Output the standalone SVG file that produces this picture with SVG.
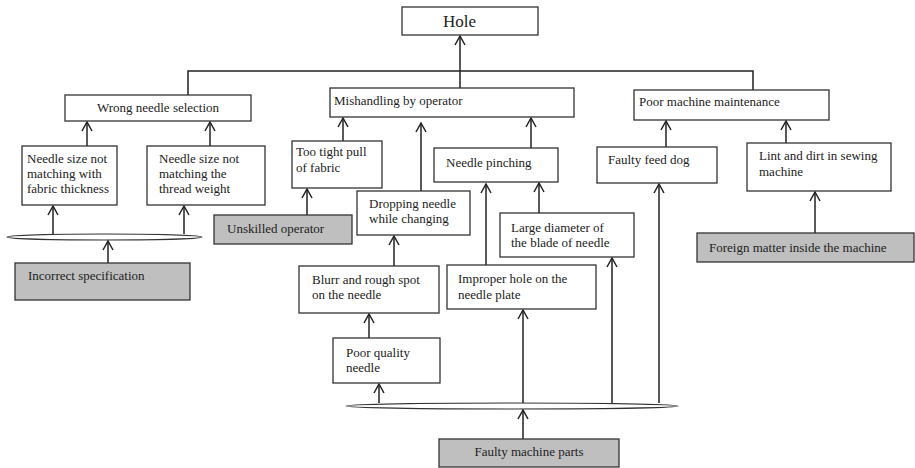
<svg xmlns="http://www.w3.org/2000/svg" width="915" height="468" viewBox="0 0 915 468">
<style>
.b{fill:#fff;stroke:#333;stroke-width:1.3}
.g{fill:#bfbfbf;stroke:#333;stroke-width:1.3}
text{font-size:13px;fill:#222}
.c line,.c path{stroke:#222;stroke-width:1.5;fill:none}
.c ellipse{fill:#fff;stroke:#333;stroke-width:1.2}
.a{marker-end:url(#ah)}
</style>
<defs>
<marker id="ah" markerUnits="userSpaceOnUse" markerWidth="14" markerHeight="14" viewBox="-10 -7 14 14" refX="0" refY="0" orient="auto">
<path d="M-9,-5 L0,0 L-9,5" fill="none" stroke="#222" stroke-width="1.5"/>
</marker>
</defs>
<g class="c" id="connectors">
<path d="M188,96 V71 H753 V90"/>
<line class="a" x1="460" y1="88" x2="460" y2="36"/>
<line class="a" x1="87" y1="146" x2="87" y2="122"/>
<line class="a" x1="210" y1="146" x2="210" y2="122"/>
<line class="a" x1="53" y1="234" x2="53" y2="206"/>
<line class="a" x1="184" y1="234" x2="184" y2="206"/>
<ellipse cx="104.5" cy="237" rx="97.5" ry="3"/>
<line class="a" x1="108" y1="263" x2="108" y2="241"/>
<line class="a" x1="343" y1="141" x2="343" y2="118"/>
<line class="a" x1="307" y1="215" x2="307" y2="189"/>
<line class="a" x1="421" y1="191" x2="421" y2="123"/>
<line class="a" x1="531" y1="148" x2="531" y2="118"/>
<line class="a" x1="539" y1="213" x2="539" y2="183"/>
<line class="a" x1="486" y1="265" x2="486" y2="184"/>
<line class="a" x1="666" y1="147" x2="666" y2="121"/>
<line class="a" x1="786" y1="143" x2="786" y2="121"/>
<line class="a" x1="815" y1="233" x2="815" y2="192"/>
<line class="a" x1="394" y1="266" x2="394" y2="236"/>
<line class="a" x1="369" y1="338" x2="369" y2="314"/>
<ellipse cx="512" cy="406" rx="166" ry="3"/>
<line class="a" x1="379" y1="403" x2="379" y2="384"/>
<line class="a" x1="523" y1="403" x2="523" y2="310"/>
<line class="a" x1="612" y1="403" x2="612" y2="258"/>
<line class="a" x1="659" y1="403" x2="659" y2="184"/>
<line class="a" x1="523" y1="439" x2="523" y2="410"/>
</g>
<g font-family="'Liberation Serif', 'DejaVu Serif', serif">
<g id="hole"><rect class="b" x="402" y="7" width="136" height="28"/><text x="443" y="27" style="font-size:17px">Hole</text></g>
<g id="wrong-needle"><rect class="b" x="65" y="95" width="186" height="26"/><text x="158" y="112" text-anchor="middle">Wrong needle selection</text></g>
<g id="mishandling"><rect class="b" x="330" y="88" width="244" height="29"/><text x="334" y="105">Mishandling by operator</text></g>
<g id="poor-maintenance"><rect class="b" x="634" y="90" width="195" height="30"/><text x="639" y="106">Poor machine maintenance</text></g>
<g id="needle-fabric"><rect class="b" x="22" y="146" width="95" height="59"/><text x="27" y="163">Needle size not</text><text x="27" y="178">matching with</text><text x="27" y="193">fabric thickness</text></g>
<g id="needle-thread"><rect class="b" x="147" y="146" width="118" height="59"/><text x="159" y="163">Needle size not</text><text x="159" y="178">matching the</text><text x="159" y="193">thread weight</text></g>
<g id="incorrect-spec"><rect class="g" x="15" y="263" width="175" height="37"/><text x="28" y="280">Incorrect specification</text></g>
<g id="too-tight"><rect class="b" x="292" y="141" width="90" height="47"/><text x="296" y="156">Too tight pull</text><text x="296" y="172">of fabric</text></g>
<g id="unskilled"><rect class="g" x="214" y="215" width="138" height="29"/><text x="227" y="233">Unskilled operator</text></g>
<g id="dropping"><rect class="b" x="357" y="191" width="113" height="44"/><text x="369" y="208">Dropping needle</text><text x="369" y="223">while changing</text></g>
<g id="pinching"><rect class="b" x="434" y="148" width="124" height="34"/><text x="446" y="167">Needle pinching</text></g>
<g id="large-diameter"><rect class="b" x="500" y="213" width="134" height="44"/><text x="511" y="232">Large diameter of</text><text x="511" y="247">the blade of needle</text></g>
<g id="improper-hole"><rect class="b" x="447" y="265" width="149" height="44"/><text x="458" y="283">Improper hole on the</text><text x="458" y="299">needle plate</text></g>
<g id="feed-dog"><rect class="b" x="597" y="147" width="120" height="36"/><text x="608" y="164">Faulty feed dog</text></g>
<g id="lint"><rect class="b" x="747" y="143" width="144" height="48"/><text x="759" y="160">Lint and dirt in sewing</text><text x="759" y="176">machine</text></g>
<g id="foreign"><rect class="g" x="697" y="233" width="217" height="29"/><text x="709" y="252">Foreign matter inside the machine</text></g>
<g id="blurr"><rect class="b" x="299" y="266" width="140" height="47"/><text x="312" y="284">Blurr and rough spot</text><text x="312" y="299">on the needle</text></g>
<g id="poor-quality"><rect class="b" x="333" y="338" width="107" height="45"/><text x="346" y="357">Poor quality</text><text x="346" y="372">needle</text></g>
<g id="faulty-parts"><rect class="g" x="439" y="439" width="180" height="28"/><text x="529" y="456" text-anchor="middle">Faulty machine parts</text></g>
</g>
</svg>
